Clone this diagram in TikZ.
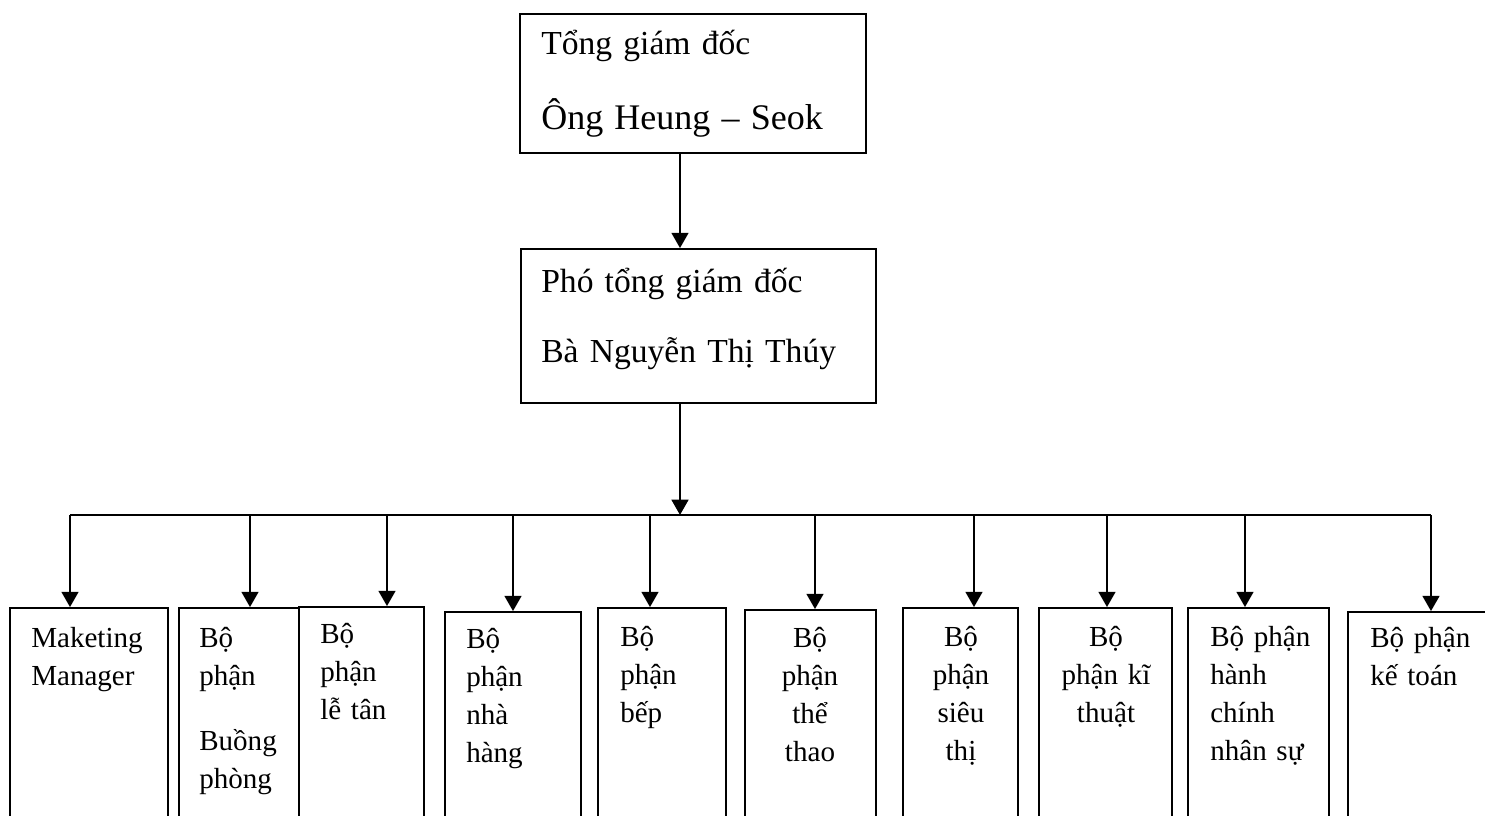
\documentclass[tikz,border=0pt]{standalone}
\usepackage{fontspec}
\setmainfont{Liberation Serif}
\usetikzlibrary{arrows.meta,fit}
\begin{document}
\begin{tikzpicture}[x=0.75pt,y=-0.75pt,
  box/.style={draw, line width=1.3pt, inner sep=0pt},
  conn/.style={line width=2pt, -{Triangle[width=12.5pt,length=11.5pt]}},
  bus/.style={line width=1.6pt},
  big/.style={font=\fontsize{25.2}{31}\selectfont, inner sep=0pt, text width=300pt, align=left, anchor=base west},
  lbl/.style={font=\fontsize{21.8}{28.7}\selectfont, inner sep=0pt, text width=150pt, align=left, anchor=base west},
  ctr/.style={font=\fontsize{21.8}{28.7}\selectfont, inner sep=0pt, text width=80pt, align=center, anchor=base}]
\useasboundingbox (0,0) rectangle (1485,816);
\clip (0,0) rectangle (1485,816);
% top boxes
\node[box, fit={(520,14) (866,153)}] (ceo) {};
\node[big] (ceoT) at (541,55) {Tổng giám đốc\\[25pt]{\fontsize{27}{31}\selectfont Ông Heung – Seok}};
\node[box, fit={(521,249) (876,403)}] (vp) {};
\node[big] (vpT) at (541,293) {Phó tổng giám đốc\\[21.5pt]Bà Nguyễn Thị Thúy};
\coordinate (sp) at (680,515);
\draw[conn] (sp |- ceo.south) -- (sp |- vp.north);
\draw[conn] (sp |- vp.south) -- (sp);
% department boxes
\node[box, fit={(10,608) (168,840)}] (m1) {};
\node[box, fit={(179,608) (299,840)}] (m2) {};
\node[box, fit={(299,607) (424,840)}] (m3) {};
\node[box, fit={(445,612) (581,840)}] (m4) {};
\node[box, fit={(598,608) (726,840)}] (m5) {};
\node[box, fit={(745,610) (876,840)}] (m6) {};
\node[box, fit={(903,608) (1018,840)}] (m7) {};
\node[box, fit={(1039,608) (1172,840)}] (m8) {};
\node[box, fit={(1188,608) (1329,840)}] (m9) {};
\node[box, fit={(1348,612) (1520,840)}] (m10) {};
% labels
\node[lbl] (t1) at (31,647) {Maketing\\Manager};
\node[lbl] (t2) at (199,647) {Bộ\\phận\\[20pt]Buồng\\phòng};
\node[lbl] (t3) at (320,643) {Bộ\\phận\\lễ tân};
\node[lbl] (t4) at (466,648) {Bộ\\phận\\nhà\\hàng};
\node[lbl] (t5) at (620,646) {Bộ\\phận\\bếp};
\node[ctr] (t6) at (810,647) {Bộ\\phận\\thể\\thao};
\node[ctr] (t7) at (961,646) {Bộ\\phận\\siêu\\thị};
\node[ctr] (t8) at (1106,646) {Bộ\\phận kĩ\\thuật};
\node[lbl] (t9) at (1210,646) {Bộ phận\\hành\\chính\\nhân sự};
\node[lbl] (t10) at (1370,647) {Bộ phận\\kế toán};
% bus and branches
\coordinate (a1) at (70,515);
\coordinate (a2) at (250,515);
\coordinate (a3) at (387,515);
\coordinate (a4) at (513,515);
\coordinate (a5) at (650,515);
\coordinate (a6) at (815,515);
\coordinate (a7) at (974,515);
\coordinate (a8) at (1107,515);
\coordinate (a9) at (1245,515);
\coordinate (a10) at (1431,515);
\draw[bus] (a1) -- (a10);
\foreach \i in {1,...,10}{
  \draw[conn] (a\i) -- (a\i |- m\i.north);
}
\end{tikzpicture}
\end{document}
